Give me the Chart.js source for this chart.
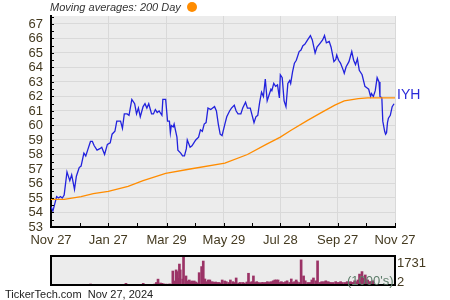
<!DOCTYPE html>
<html>
<head>
<meta charset="utf-8">
<script src="https://cdn.jsdelivr.net/npm/chart.js@4/dist/chart.umd.min.js"></script>
<style>
  html, body { margin: 0; padding: 0; background: #fff; }
  #wrap { position: relative; width: 450px; height: 300px; overflow: hidden; font-family: "Liberation Sans", Arial, sans-serif; }
  canvas { position: absolute; left: 0; }
  .t { position: absolute; white-space: nowrap; line-height: 1; }
</style>
</head>
<body>
<div id="wrap">
  <canvas id="main" width="450" height="250" style="top:0"></canvas>
  <canvas id="vol" width="450" height="40" style="top:250px"></canvas>
  <div class="t" style="left:50px;top:2px;font-size:11px;font-style:italic;color:#333;">Moving averages: 200 Day</div>
  <div class="t" style="left:187px;top:2px;width:10px;height:10px;border-radius:5px;background:#ff8c00;"></div>
  <div class="t" style="left:397px;top:87px;font-size:14px;color:#2a2ad8;">IYH</div>
  <div class="t" style="left:397px;top:256px;font-size:13px;color:#443a20;">1731</div>
  <div class="t" style="left:397px;top:275px;font-size:13px;color:#443a20;">2</div>
  <div class="t" style="left:347px;top:274px;font-size:13px;color:#5d7d6a;">(1000's)</div>
  <div class="t" style="left:5px;top:289px;font-size:11px;color:#222;">TickerTech.com&nbsp;&nbsp;Nov 27, 2024</div>
</div>
<script>
// ---- data (x = days since Nov 27, 2023) ----
const tickDays = [0, 30.5, 61, 92, 123, 153.5, 184, 214, 244, 274.5, 305, 335.5, 366];
const tickLabels = ["Nov 27", "", "Jan 27", "", "Mar 29", "", "May 29", "", "Jul 28", "", "Sep 27", "", "Nov 27"];

const priceDays = [0,2,4,6,8,10,12,14,17,20,22,25,27,30,32,35,37,39,42,44,46,49,52,54,57,60,63,65,68,70,74,76,78,81,83,86,89,91,93,95,98,100,102,104,107,109,111,113,115,118,119,122,124,126,127,128,130,131,134,135,138,140,142,144,145,148,150,152,154,157,159,161,163,165,167,170,172,174,176,178,180,182,185,187,190,192,195,197,199,202,204,207,209,212,214,216,218,220,222,224,226,228,230,232,234,235,237,239,241,243,244,246,248,250,252,254,255,257,259,261,264,266,268,270,272,273,276,278,281,283,286,289,291,293,296,298,301,303,304,306,308,311,312,314,317,320,322,324,326,328,331,334,336,338,340,341,343,345,347,349,350,352,353,355,356,357,358,359,361,363,365];
const prices = [54.4,54.1,54.6,55.1,55.0,55.1,55.0,55.2,56.8,56.2,56.6,55.6,56.5,57.1,57.2,58.1,57.9,58.3,58.9,58.9,58.6,58.3,58.4,58.5,58.0,58.7,58.8,59.4,59.6,60.3,60.3,59.8,60.8,60.8,60.7,61.8,61.5,60.8,61.2,60.6,61.3,61.5,61.2,61.5,60.8,60.8,61.1,60.9,61.0,60.7,61.8,61.8,60.3,60.3,59.5,60.0,59.9,60.1,59.2,58.3,58.1,57.9,57.9,58.4,59.0,58.5,58.6,58.8,59.0,59.2,59.7,59.6,60.1,60.2,61.2,61.1,61.2,61.3,61.0,60.1,59.4,59.3,60.1,60.6,61.0,61.2,61.4,61.0,60.8,60.8,61.2,61.6,61.2,61.2,60.7,60.2,60.6,60.7,61.6,62.3,62.0,63.2,61.7,62.1,62.5,62.4,62.9,62.7,62.8,61.9,63.5,63.3,61.7,61.3,62.9,63.1,62.9,63.7,64.3,64.5,65.1,65.2,65.5,65.6,65.8,65.9,66.2,65.9,65.0,65.4,65.65,65.9,66.2,65.7,65.8,65.4,64.4,64.55,64.85,64.5,64.3,63.8,63.6,64.05,64.4,65.1,64.5,64.2,64.6,63.8,63.5,62.7,62.6,62.5,62.0,62.2,62.0,62.4,63.3,63.0,62.0,61.9,60.3,59.6,59.4,59.5,60.2,60.5,60.7,61.3,61.5,62.1];
const volumes = [15,10,10,12,10,10,10,10,10,10,60,10,10,10,10,10,10,10,10,10,10,10,10,10,10,10,10,100,10,10,10,10,10,10,10,100,10,10,10,10,40,60,150,350,120,100,60,50,50,60,50,835,240,900,800,400,1250,900,350,1731,540,240,300,180,240,240,180,120,735,1100,1430,360,200,300,300,200,160,180,150,150,120,300,240,200,150,300,200,150,420,120,150,150,120,180,700,150,200,540,150,200,150,120,150,150,120,150,200,150,200,150,250,300,300,300,150,200,150,150,200,250,150,360,150,200,300,200,150,1500,540,250,150,150,300,420,250,1440,150,200,150,200,250,200,150,150,150,200,150,150,200,150,150,200,150,200,150,150,250,200,300,650,300,800,400,300,600,300,200,300,200,200,250,200];

const maDays = [0,14,32,45,61,82,98,122,148,185,209,229,244,255,273,288,302,312,327,337,366];
const maValues = [54.9,54.9,55.1,55.3,55.45,55.8,56.2,56.7,57.0,57.4,58.0,58.7,59.2,59.65,60.35,60.9,61.4,61.7,61.85,61.9,61.9];

const volMax = 1731;
// ---- end data ----

const labelColor = '#443a20';
const font = { family: '"Liberation Sans", Arial, sans-serif', size: 13 };

const bgPlugin = {
  id: 'bg',
  beforeDraw(chart) {
    const a = chart.chartArea, c = chart.ctx;
    c.save(); c.fillStyle = '#ececec';
    c.fillRect(a.left, a.top, a.right - a.left, a.bottom - a.top);
    c.restore();
  }
};

const innerTicks = {
  id: 'innerTicks',
  afterDraw(chart) {
    const c = chart.ctx, a = chart.chartArea, xs = chart.scales.x, ys = chart.scales.y;
    c.save(); c.strokeStyle = '#000'; c.lineWidth = 1;
    xs.ticks.forEach(t => {
      const px = Math.round(xs.getPixelForValue(t.value)) + 0.5;
      c.beginPath(); c.moveTo(px, a.bottom); c.lineTo(px, a.bottom - 4); c.stroke();
    });
    ys.ticks.forEach(t => {
      const py = Math.round(ys.getPixelForValue(t.value)) + 0.5;
      c.beginPath(); c.moveTo(a.left, py); c.lineTo(a.left + 3, py); c.stroke();
    });
    c.restore();
  }
};

new Chart(document.getElementById('main'), {
  type: 'line',
  data: {
    datasets: [
      { label: '200 Day', data: maDays.map((d, i) => ({ x: d, y: maValues[i] })),
        borderColor: '#ff8c00', borderWidth: 1.3, pointRadius: 0, tension: 0 },
      { label: 'IYH', data: priceDays.map((d, i) => ({ x: d, y: prices[i] })),
        borderColor: '#2222dd', borderWidth: 1.3, pointRadius: 0, tension: 0 }
    ]
  },
  options: {
    responsive: false, animation: false, devicePixelRatio: 1,
    layout: { padding: { top: 16, right: 55, left: 0, bottom: 0 } },
    plugins: { legend: { display: false }, tooltip: { enabled: false } },
    scales: {
      x: {
        type: 'linear', min: 0, max: 366,
        afterBuildTicks: s => { s.ticks = tickDays.map(v => ({ value: v })); },
        afterFit: s => { s.height = 23; },
        ticks: { autoSkip: false, maxRotation: 0, padding: 6, color: labelColor, font,
          callback: (v, i) => tickLabels[i] },
        grid: { drawTicks: false,
          color: ctx => (ctx.index % 2 === 0 && ctx.index > 0) ? '#d9d9d9' : 'rgba(0,0,0,0)',
          lineWidth: 1 },
        border: { color: '#000', width: 2 }
      },
      y: {
        min: 53, max: 67.55,
        afterFit: s => { s.width = 51; },
        ticks: { stepSize: 0.5, includeBounds: false, autoSkip: false, padding: 8, color: labelColor, font,
          callback: v => Number.isInteger(v) ? String(v) : '' },
        grid: { drawTicks: false,
          color: ctx => (ctx.tick && Number.isInteger(ctx.tick.value)) ? '#d9d9d9' : 'rgba(0,0,0,0)',
          lineWidth: 1 },
        border: { color: '#000', width: 2 }
      }
    }
  },
  plugins: [bgPlugin, innerTicks]
});

const boxPlugin = {
  id: 'box',
  afterDraw(chart) {
    const a = chart.chartArea, c = chart.ctx;
    c.save(); c.strokeStyle = '#000'; c.lineWidth = 2;
    c.strokeRect(a.left, a.top, a.right - a.left, a.bottom - a.top);
    c.restore();
  }
};

new Chart(document.getElementById('vol'), {
  type: 'bar',
  data: {
    datasets: [{ data: priceDays.map((d, i) => ({ x: d, y: volumes[i] })),
      backgroundColor: '#9b3366', barThickness: 2 }]
  },
  options: {
    responsive: false, animation: false, devicePixelRatio: 1,
    layout: { padding: { top: 6, right: 55, left: 51, bottom: 5 } },
    plugins: { legend: { display: false }, tooltip: { enabled: false } },
    scales: {
      x: { type: 'linear', min: 0, max: 366, display: false },
      y: { min: 0, max: volMax, display: false }
    }
  },
  plugins: [bgPlugin, boxPlugin]
});
</script>
</body>
</html>
